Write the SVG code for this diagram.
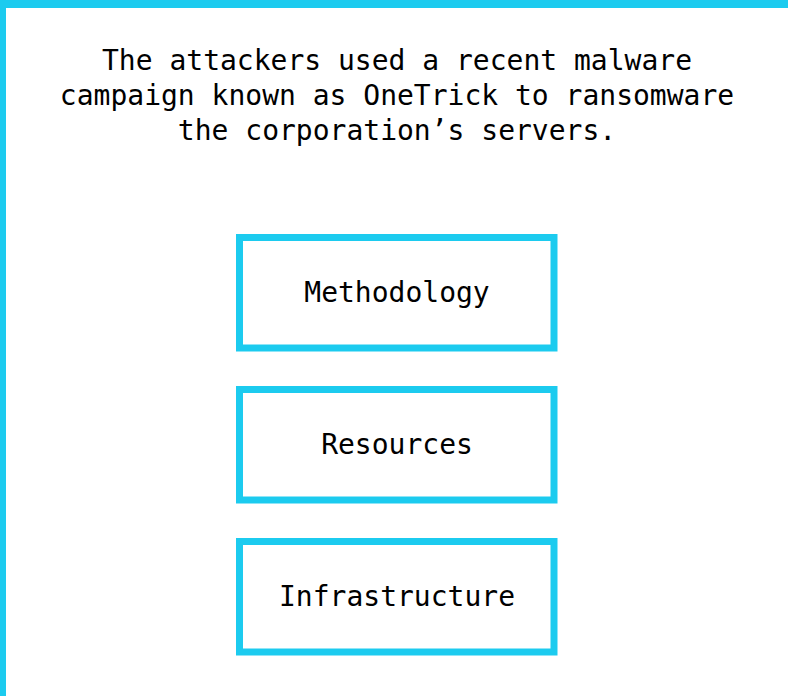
<svg xmlns="http://www.w3.org/2000/svg" width="795" height="696" viewBox="0 0 795 696">
<style>
.frame{fill:#1ccbef}
.box{fill:#fff;stroke:#1ccbef;stroke-width:7}
.t{font-family:"DejaVu Sans Mono","Liberation Mono",monospace;font-size:28px;fill:#000;text-anchor:middle}
</style>
<rect width="795" height="696" fill="#fff"/>
<g id="frame">
<rect class="frame" x="0" y="0" width="788" height="8"/>
<rect class="frame" x="0" y="0" width="6" height="696"/>
</g>
<g id="title">
<text class="t" x="397" y="70">The attackers used a recent malware</text>
<text class="t" x="397" y="105">campaign known as OneTrick to ransomware</text>
<text class="t" x="397" y="140">the corporation’s servers.</text>
</g>
<g id="connectors"></g>
<g id="methodology">
<rect class="box" x="239.5" y="237.5" width="314.5" height="110.5"/>
<text class="t" x="397" y="302">Methodology</text>
</g>
<g id="resources">
<rect class="box" x="239.5" y="389.5" width="314.5" height="110.5"/>
<text class="t" x="397" y="454">Resources</text>
</g>
<g id="infrastructure">
<rect class="box" x="239.5" y="541.5" width="314.5" height="110.5"/>
<text class="t" x="397" y="606">Infrastructure</text>
</g>
</svg>
